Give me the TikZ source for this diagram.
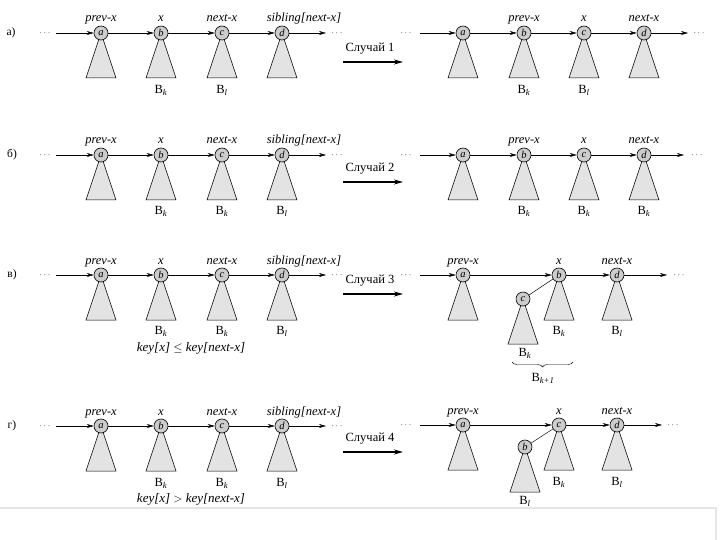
\documentclass[tikz,border=0pt]{standalone}
\usepackage{fontspec}
\setmainfont{Liberation Serif}
\usetikzlibrary{arrows.meta,decorations.pathreplacing,backgrounds,positioning}
\newcommand\Bs[1]{B\textsubscript{\itshape #1}}
\newcommand\leftrow[2]{%
  \foreach \n/\x in {a/101,b/161,c/222,d/282} {\node[tn] (L#1\n) at (\x,#2) {\n};}
  \coordinate (L#1s) at (56,#2);
  \coordinate (L#1e) at (326,#2);
  \node[dots] (L#1ld) at (45,#2) {$\cdots$};
  \node[dots] (L#1rd) at (337,#2) {$\cdots$};
  \draw[link] (L#1s) -- (L#1a);
  \draw[link] (L#1a) -- (L#1b);
  \draw[link] (L#1b) -- (L#1c);
  \draw[link] (L#1c) -- (L#1d);
  \draw[link] (L#1d) -- (L#1e);
  \begin{scope}[on background layer]
    \foreach \n in {a,b,c,d} {\draw[tree] (L#1\n.center) -- ++(-15,45) -- ++(30,0) -- cycle;}
  \end{scope}
  \node[lab,above=0pt of L#1a] (L#1ta) {prev-x};
  \node[lab,above=0pt of L#1b] (L#1tb) {x};
  \node[lab,above=0pt of L#1c] (L#1tc) {next-x};
  \node[lab,above=0pt of L#1d,xshift=22pt] (L#1td) {sibling[next-x]};
}
\begin{document}
\begin{tikzpicture}[x=1pt,y=-1pt,
  tn/.style={circle,draw,line width=0.6pt,fill=gray!40,minimum size=14pt,inner sep=0pt,font=\fontsize{10.5}{10}\selectfont\itshape},
  tree/.style={draw,fill=gray!22,line width=0.5pt},
  link/.style={-{Stealth[length=7pt,width=4pt]},line width=0.45pt},
  casearrow/.style={-{Stealth[length=9pt,width=5pt]},line width=1.4pt},
  lab/.style={font=\fontsize{12.5}{13}\selectfont\itshape,inner sep=1pt,text height=8pt,text depth=2.5pt},
  blab/.style={font=\fontsize{12.5}{13}\selectfont,inner sep=1pt},
  dots/.style={font=\fontsize{9}{9}\selectfont,inner sep=0pt},
  rowlab/.style={font=\fontsize{11.5}{12}\selectfont},
  ctext/.style={font=\fontsize{12.5}{13}\selectfont,inner sep=1pt},
  keylab/.style={font=\fontsize{13}{14}\selectfont\itshape,inner sep=1pt}]
\useasboundingbox (0,0) rectangle (720,540);

% ---------------- row a ----------------
\node[rowlab] (ra) at (11,33) {а)};
\leftrow{1}{33}
\node[blab] (L1Bb) at (161,90) {\Bs{k}};
\node[blab] (L1Bc) at (222,90) {\Bs{l}};
\coordinate (C1s) at (343,62); \coordinate (C1e) at (403,62);
\draw[casearrow] (C1s) -- (C1e);
\node[ctext] (C1t) at (370,49) {Случай 1};

\foreach \n/\x in {a/463,b/524,c/584,d/644} {\node[tn] (R1\n) at (\x,33) {\n};}
\coordinate (R1s) at (420,33); \coordinate (R1e) at (688,33);
\node[dots] (R1ld) at (406,33) {$\cdots$};
\node[dots] (R1rd) at (699,33) {$\cdots$};
\draw[link] (R1s) -- (R1a);
\draw[link] (R1a) -- (R1b);
\draw[link] (R1b) -- (R1c);
\draw[link] (R1c) -- (R1d);
\draw[link] (R1d) -- (R1e);
\begin{scope}[on background layer]
  \foreach \n in {a,b,c,d} {\draw[tree] (R1\n.center) -- ++(-15,45) -- ++(30,0) -- cycle;}
\end{scope}
\node[lab,above=0pt of R1b] (R1tb) {prev-x};
\node[lab,above=0pt of R1c] (R1tc) {x};
\node[lab,above=0pt of R1d] (R1td) {next-x};
\node[blab] (R1Bb) at (524,90) {\Bs{k}};
\node[blab] (R1Bc) at (584,90) {\Bs{l}};

% ---------------- row b ----------------
\node[rowlab] (rb) at (12,155) {б)};
\leftrow{2}{155}
\node[blab] (L2Bb) at (161,211) {\Bs{k}};
\node[blab] (L2Bc) at (222,211) {\Bs{k}};
\node[blab] (L2Bd) at (282,211) {\Bs{l}};
\coordinate (C2s) at (343,182); \coordinate (C2e) at (403,182);
\draw[casearrow] (C2s) -- (C2e);
\node[ctext] (C2t) at (370,169) {Случай 2};

\foreach \n/\x in {a/463,b/524,c/584,d/644} {\node[tn] (R2\n) at (\x,155) {\n};}
\coordinate (R2s) at (420,155); \coordinate (R2e) at (684,155);
\node[dots] (R2ld) at (406,155) {$\cdots$};
\node[dots] (R2rd) at (697,155) {$\cdots$};
\draw[link] (R2s) -- (R2a);
\draw[link] (R2a) -- (R2b);
\draw[link] (R2b) -- (R2c);
\draw[link] (R2c) -- (R2d);
\draw[link] (R2d) -- (R2e);
\begin{scope}[on background layer]
  \foreach \n in {a,b,c,d} {\draw[tree] (R2\n.center) -- ++(-15,45) -- ++(30,0) -- cycle;}
\end{scope}
\node[lab,above=0pt of R2b] (R2tb) {prev-x};
\node[lab,above=0pt of R2c] (R2tc) {x};
\node[lab,above=0pt of R2d] (R2td) {next-x};
\node[blab] (R2Bb) at (524,211) {\Bs{k}};
\node[blab] (R2Bc) at (584,211) {\Bs{k}};
\node[blab] (R2Bd) at (644,211) {\Bs{k}};

% ---------------- row v ----------------
\node[rowlab] (rv) at (12,275) {в)};
\leftrow{3}{275}
\node[blab] (L3Bb) at (161,331) {\Bs{k}};
\node[blab] (L3Bc) at (222,331) {\Bs{k}};
\node[blab] (L3Bd) at (282,331) {\Bs{l}};
\node[keylab] (L3key) at (191,348) {key[x] $\le$ key[next-x]};
\coordinate (C3s) at (343,294); \coordinate (C3e) at (403,294);
\draw[casearrow] (C3s) -- (C3e);
\node[ctext] (C3t) at (370,281) {Случай 3};

\node[tn] (R3a) at (463,275) {a};
\node[tn] (R3b) at (559,275) {b};
\node[tn] (R3d) at (617,275) {d};
\node[tn] (R3c) at (523,299) {c};
\coordinate (R3s) at (420,275); \coordinate (R3e) at (667,275);
\node[dots] (R3ld) at (406,275) {$\cdots$};
\node[dots] (R3rd) at (679,275) {$\cdots$};
\draw[link] (R3s) -- (R3a);
\draw[link] (R3a) -- (R3b);
\draw[link] (R3b) -- (R3d);
\draw[link] (R3d) -- (R3e);
\draw[line width=0.45pt] (R3c) -- (R3b);
\begin{scope}[on background layer]
  \foreach \n in {a,b,c,d} {\draw[tree] (R3\n.center) -- ++(-15,45) -- ++(30,0) -- cycle;}
\end{scope}
\node[lab,above=0pt of R3a] (R3ta) {prev-x};
\node[lab,above=0pt of R3b] (R3tb) {x};
\node[lab,above=0pt of R3d] (R3td) {next-x};
\node[blab] (R3Bb) at (559,331) {\Bs{k}};
\node[blab] (R3Bd) at (617,331) {\Bs{l}};
\node[blab] (R3Bc) at (525,353) {\Bs{k}};
\coordinate (R3bl) at (512,362); \coordinate (R3br) at (573,362);
\draw[line width=0.45pt,decorate,decoration={brace,amplitude=5pt,mirror}] (R3bl) -- (R3br);
\node[blab] (R3Bk1) at (543,378) {\Bs{k+1}};

% ---------------- row g ----------------
\node[rowlab] (rg) at (12,426) {г)};
\leftrow{4}{426}
\node[blab] (L4Bb) at (161,483) {\Bs{k}};
\node[blab] (L4Bc) at (222,483) {\Bs{k}};
\node[blab] (L4Bd) at (282,483) {\Bs{l}};
\node[keylab] (L4key) at (191,499) {key[x] $>$ key[next-x]};
\coordinate (C4s) at (343,452); \coordinate (C4e) at (403,452);
\draw[casearrow] (C4s) -- (C4e);
\node[ctext] (C4t) at (370,439) {Случай 4};

\node[tn] (R4a) at (463,425) {a};
\node[tn] (R4c) at (559,425) {c};
\node[tn] (R4d) at (617,425) {d};
\node[tn] (R4b) at (525,447) {b};
\coordinate (R4s) at (420,425); \coordinate (R4e) at (662,425);
\node[dots] (R4ld) at (406,425) {$\cdots$};
\node[dots] (R4rd) at (673,425) {$\cdots$};
\draw[link] (R4s) -- (R4a);
\draw[link] (R4a) -- (R4c);
\draw[link] (R4c) -- (R4d);
\draw[link] (R4d) -- (R4e);
\draw[line width=0.45pt] (R4b) -- (R4c);
\begin{scope}[on background layer]
  \foreach \n in {a,b,c,d} {\draw[tree] (R4\n.center) -- ++(-15,45) -- ++(30,0) -- cycle;}
\end{scope}
\node[lab,above=0pt of R4a] (R4ta) {prev-x};
\node[lab,above=0pt of R4c] (R4tc) {x};
\node[lab,above=0pt of R4d] (R4td) {next-x};
\node[blab] (R4Bc) at (559,482) {\Bs{k}};
\node[blab] (R4Bd) at (617,482) {\Bs{l}};
\node[blab] (R4Bb) at (525,501) {\Bs{l}};

% bottom scan edge
\draw[gray!20,line width=1.5pt] (0,508) -- (716,508) -- (716,540);
\end{tikzpicture}
\end{document}
